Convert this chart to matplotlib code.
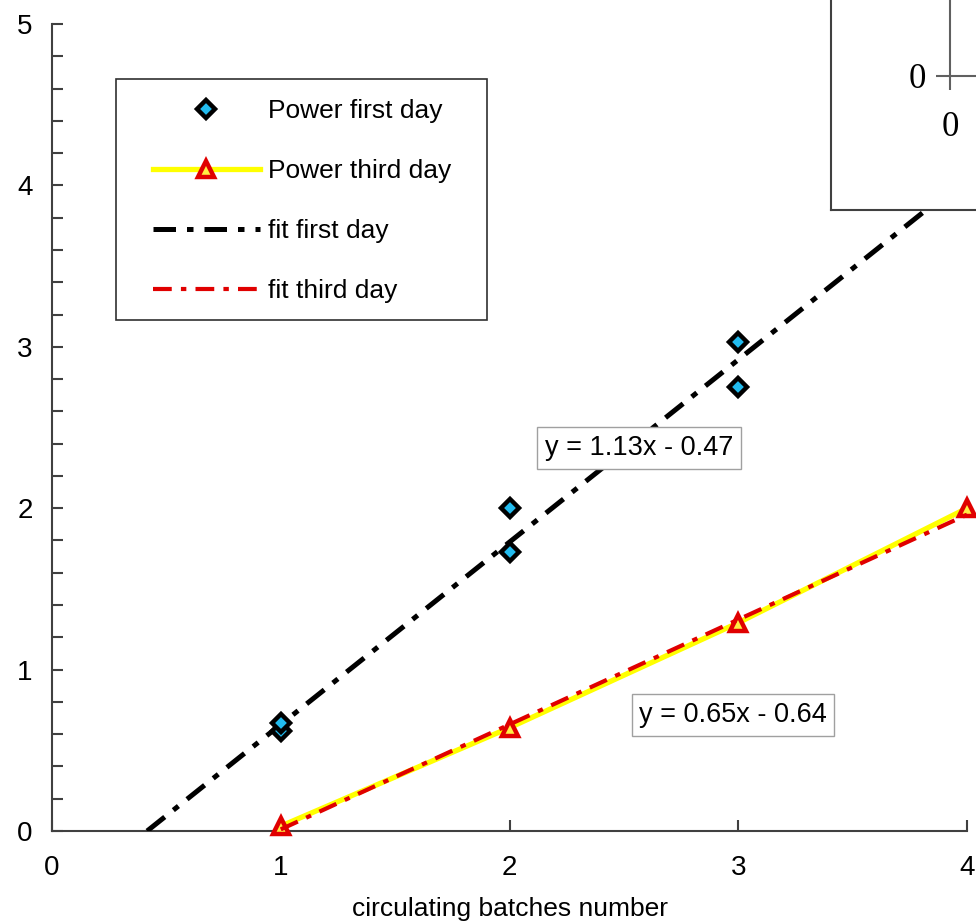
import matplotlib
matplotlib.use('Agg')
import matplotlib.pyplot as plt
from matplotlib.patches import Rectangle
from matplotlib.ticker import MultipleLocator

plt.rcParams['font.family'] = ['Liberation Sans', 'DejaVu Sans']

# measured power, first day (two runs per batch count)
x_first = [1, 1, 2, 2, 3, 3]
y_first = [0.62, 0.67, 2.00, 1.73, 3.03, 2.75]

# measured power, third day
x_third = [1, 2, 3, 4]
y_third = [0.03, 0.64, 1.29, 2.00]

# linear fits (slope, intercept) and their labels
fit_first = (1.13, -0.47)
fit_third = (0.65, -0.64)
eq_first = 'y = 1.13x - 0.47'
eq_third = 'y = 0.65x - 0.64'

W, H = 976, 922
fig = plt.figure(figsize=(W / 100, H / 100), dpi=100)
ax = fig.add_axes([52 / W, 91 / H, 915 / W, 807 / H])

# fit lines
m1, b1 = fit_first
xf1 = [-b1 / m1, 4]
yf1 = [m1 * x + b1 for x in xf1]
m3, b3 = fit_third
xf3 = [x_third[0], x_third[-1]]
yf3 = [m3 * x + b3 for x in xf3]

line3, = ax.plot(x_third, y_third, color='#ffff00', lw=3.8, marker='^', ms=12,
                 mfc='#ffee44', mec='#e00000', mew=3.2, zorder=3, clip_on=False,
                 label='Power third day')
fit1, = ax.plot(xf1, yf1, color='black', lw=3.6, dashes=(4.5, 2.2, 1.3, 2.2),
                zorder=4, label='fit first day')
fit3, = ax.plot(xf3, yf3, color='#e00000', lw=3.0, dashes=(4.5, 2.2, 1.3, 2.2),
                zorder=4, label='fit third day')
pts1, = ax.plot(x_first, y_first, ls='none', marker='D', ms=9, mfc='#22bbee',
                mec='black', mew=3.2, zorder=5, clip_on=False, label='Power first day')

ax.set_xlim(0, 4)
ax.set_ylim(0, 5)
ax.set_xticks([0, 1, 2, 3, 4])
ax.set_yticks([0, 1, 2, 3, 4, 5])
ax.yaxis.set_minor_locator(MultipleLocator(0.2))

for side in ['top', 'right']:
    ax.spines[side].set_visible(False)
for side in ['left', 'bottom']:
    ax.spines[side].set_color('#404040')
    ax.spines[side].set_linewidth(1.5)

ax.tick_params(which='both', direction='in', length=8, width=1.5, color='#404040')
ax.tick_params(axis='y', labelsize=20, pad=14)
ax.tick_params(axis='x', labelsize=20, pad=17)
ax.set_xlabel('circulating batches number', fontsize=19, labelpad=12)

# equation boxes
ax.text(2.566, 2.373, eq_first, ha='center', va='center', fontsize=19.5, zorder=6,
        bbox=dict(boxstyle='square,pad=0.28', fc='white', ec='#a0a0a0', lw=1))
ax.text(2.977, 0.719, eq_third, ha='center', va='center', fontsize=19.5, zorder=6,
        bbox=dict(boxstyle='square,pad=0.28', fc='white', ec='#a0a0a0', lw=1))

# legend (frame drawn separately)
ax.legend([pts1, line3, fit1, fit3],
          ['Power first day', 'Power third day', 'fit first day', 'fit third day'],
          loc='upper left', bbox_to_anchor=((153 - 52) / 915, (831 - 99) / 807),
          frameon=False, borderpad=0, borderaxespad=0, handlelength=4.05,
          handletextpad=0.3, labelspacing=1.37, fontsize=19, numpoints=1)
fig.add_artist(Rectangle((116 / W, (H - 320) / H), (487 - 116) / W, (320 - 79) / H,
                         transform=fig.transFigure, fill=False, ec='#303030', lw=1.2))

# cropped inset in the top right corner
box = fig.add_axes([831 / W, (H - 210) / H, 300 / W, 300 / H])
box.set_xticks([])
box.set_yticks([])
for s in box.spines.values():
    s.set_color('#404040')
    s.set_linewidth(1.5)

inner = fig.add_axes([950 / W, (H - 76) / H, 100 / W, 100 / H])
inner.patch.set_alpha(0)
inner.spines['top'].set_visible(False)
inner.spines['right'].set_visible(False)
for side in ['left', 'bottom']:
    inner.spines[side].set_color('#606060')
    inner.spines[side].set_linewidth(1.5)
inner.set_xlim(0, 1)
inner.set_ylim(0, 1)
inner.set_xticks([0])
inner.set_yticks([0])
inner.set_xticklabels(['0'])
inner.set_yticklabels(['0'])
inner.tick_params(direction='out', length=10, width=1.5, color='#606060', labelsize=25)
inner.tick_params(axis='x', pad=15)
inner.tick_params(axis='y', pad=7)
for lab in inner.get_xticklabels() + inner.get_yticklabels():
    lab.set_fontfamily(['Liberation Serif', 'DejaVu Serif'])

fig.savefig('out.png', dpi=100)
